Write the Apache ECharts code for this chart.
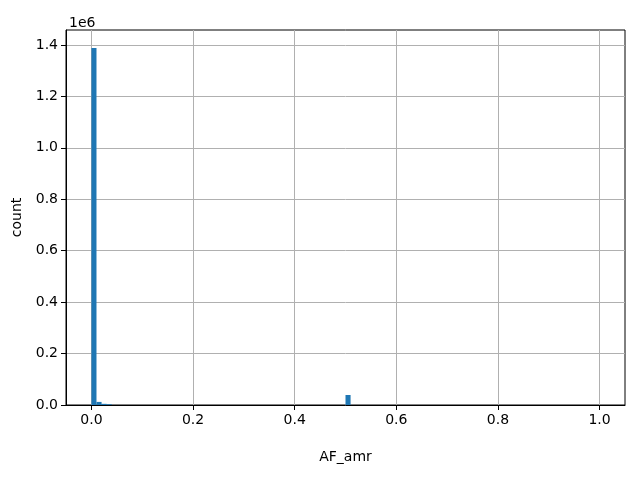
<!DOCTYPE html>
<html><head><meta charset="utf-8">
<script src="https://cdn.jsdelivr.net/npm/echarts@6/dist/echarts.min.js"></script>
<style>html,body{margin:0;padding:0;background:#fff}#c{width:640px;height:480px}</style>
</head><body><div id="c"></div>
<script>
// Histogram of AF_amr, 100 bins of width 0.01 on [0,1]; only non-empty bins listed
const binStarts = [0.00, 0.01, 0.02, 0.03, 0.50];
const counts    = [1388000, 12000, 4500, 3000, 39000];
const binWidth = 0.01;
const xTicks = [0, 0.2, 0.4, 0.6, 0.8, 1.0];
const yTicks = [0, 200000, 400000, 600000, 800000, 1000000, 1200000, 1400000];

const data = binStarts.map((s, i) => [s, s + binWidth, counts[i]]);
const chart = echarts.init(document.getElementById('c'));
const font = 'DejaVu Sans';
chart.setOption({
  animation: false,
  title: {text: '1e6', left: 64, top: 11, textStyle: {fontFamily: font, fontSize: 14, fontWeight: 'normal', color: '#000'}},
  grid: {left: 66, right: 15, top: 30, bottom: 75, show: true, borderColor: '#000', borderWidth: 1, backgroundColor: 'transparent'},
  xAxis: {
    type: 'value', min: -0.05, max: 1.05,
    name: 'AF_amr', nameLocation: 'middle', nameGap: 45,
    nameTextStyle: {fontFamily: font, fontSize: 14, color: '#000'},
    axisLine: {show: true, onZero: false, lineStyle: {color: '#000'}},
    axisTick: {show: true, length: 5, lineStyle: {color: '#000'}, customValues: xTicks},
    axisLabel: {fontFamily: font, fontSize: 14, color: '#000', margin: 8, customValues: xTicks,
      formatter: v => v.toFixed(1)},
    splitLine: {show: true, lineStyle: {color: '#b0b0b0', width: 1}},
    interval: 0.2
  },
  yAxis: {
    type: 'value', min: 0, max: 1458000, interval: 200000,
    name: 'count', nameLocation: 'middle', nameGap: 34, nameRotate: 90,
    nameTextStyle: {fontFamily: font, fontSize: 14, color: '#000'},
    axisLine: {show: true, onZero: false, lineStyle: {color: '#000'}},
    axisTick: {show: true, length: 5, lineStyle: {color: '#000'}, customValues: yTicks},
    axisLabel: {fontFamily: font, fontSize: 14, color: '#000', margin: 8, customValues: yTicks,
      formatter: v => (v / 1e6).toFixed(1)},
    splitLine: {show: true, lineStyle: {color: '#b0b0b0', width: 1}}
  },
  series: [{
    type: 'custom',
    data: data,
    renderItem: (params, api) => {
      const p0 = api.coord([api.value(0), api.value(2)]);
      const p1 = api.coord([api.value(1), 0]);
      return {type: 'rect', shape: {x: p0[0], y: p0[1], width: p1[0] - p0[0], height: p1[1] - p0[1]},
        style: {fill: '#1f77b4'}};
    },
    encode: {x: [0, 1], y: 2}
  }]
});
</script></body></html>
